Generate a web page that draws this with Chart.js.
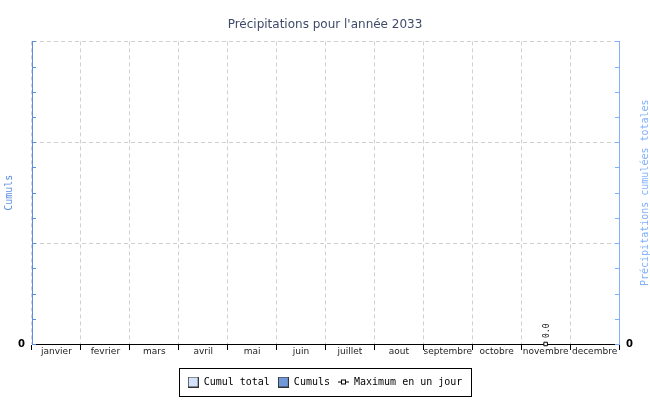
<!DOCTYPE html>
<html>
<head>
<meta charset="utf-8">
<script src="https://cdn.jsdelivr.net/npm/chart.js@4"></script>
<style>
  html, body { margin: 0; padding: 0; background: #fff; }
  #wrap { width: 650px; height: 400px; position: relative; }
</style>
</head>
<body>
<div id="wrap"><canvas id="precipChart"></canvas></div>
<script>
// Data (empty year, one zero maximum in November)
const months = ['janvier', 'fevrier', 'mars', 'avril', 'mai', 'juin', 'juillet', 'aout', 'septembre', 'octobre', 'novembre', 'decembre'];
const cumulTotal = [0, 0, 0, 0, 0, 0, 0, 0, 0, 0, 0, 0];
const cumuls = [0, 0, 0, 0, 0, 0, 0, 0, 0, 0, 0, 0];
const maxJour = [null, null, null, null, null, null, null, null, null, null, 0, null];
const yMax = 3;

const LEFT_BLUE = '#5b8ee0';
const RIGHT_BLUE = '#7eb0ff';
const GRID = '#d0d0d0';

// legend swatches
function swatch(fill) {
    const c = document.createElement('canvas');
    c.width = 11; c.height = 11;
    const g = c.getContext('2d');
    g.fillStyle = fill;
    g.fillRect(0.5, 0.5, 10, 10);
    g.strokeStyle = '#333';
    g.strokeRect(0.5, 0.5, 10, 10);
    return c;
}
function lineSwatch() {
    const c = document.createElement('canvas');
    c.width = 11; c.height = 7;
    const g = c.getContext('2d');
    g.strokeStyle = '#000';
    g.beginPath(); g.moveTo(0, 3.5); g.lineTo(11, 3.5); g.stroke();
    g.fillStyle = '#fff';
    g.fillRect(3.5, 1.5, 4, 4);
    g.strokeRect(3.5, 1.5, 4, 4);
    return c;
}

// inward minor ticks on both value axes
const innerTicks = {
    id: 'innerTicks',
    afterDraw(chart) {
        const ctx = chart.ctx;
        const area = chart.chartArea;
        [['y', LEFT_BLUE, area.left, 4], ['y1', RIGHT_BLUE, area.right, -4]].forEach(([id, col, x0, len]) => {
            const scale = chart.scales[id];
            ctx.save();
            ctx.strokeStyle = col;
            ctx.lineWidth = 1;
            scale.ticks.forEach(t => {
                const y = Math.round(scale.getPixelForValue(t.value)) + 0.5;
                ctx.beginPath();
                ctx.moveTo(x0, y);
                ctx.lineTo(x0 + len, y);
                ctx.stroke();
            });
            ctx.restore();
        });
        // right axis title, reading bottom to top
        ctx.save();
        ctx.translate(645, (area.top + area.bottom) / 2);
        ctx.rotate(-Math.PI / 2);
        ctx.font = '10px "DejaVu Sans Mono"';
        ctx.fillStyle = RIGHT_BLUE;
        ctx.textAlign = 'center';
        ctx.textBaseline = 'middle';
        ctx.fillText('Précipitations cumulées totales', 0, 0);
        ctx.restore();
    }
};

// rotated value label above the daily maximum point
const pointLabels = {
    id: 'pointLabels',
    afterDatasetsDraw(chart) {
        const ctx = chart.ctx;
        const meta = chart.getDatasetMeta(2);
        ctx.save();
        ctx.font = '8px "DejaVu Sans Mono"';
        ctx.fillStyle = '#000';
        ctx.textAlign = 'left';
        ctx.textBaseline = 'middle';
        meta.data.forEach((pt, i) => {
            if (maxJour[i] === null) return;
            ctx.save();
            ctx.translate(pt.x + 1, pt.y - 6);
            ctx.rotate(-Math.PI / 2);
            ctx.fillText(maxJour[i].toFixed(1), 0, 0);
            ctx.restore();
        });
        ctx.restore();
    }
};

// frame around the legend
const legendFrame = {
    id: 'legendFrame',
    afterDraw(chart) {
        const boxes = chart.legend.legendHitBoxes;
        if (!boxes || !boxes.length) return;
        const left = Math.min(...boxes.map(b => b.left)) - 9;
        const right = Math.max(...boxes.map(b => b.left + b.width)) + 8;
        const top = boxes[0].top - 9;
        const bottom = boxes[0].top + boxes[0].height + 9;
        const ctx = chart.ctx;
        ctx.save();
        ctx.strokeStyle = '#000';
        ctx.lineWidth = 1;
        ctx.strokeRect(Math.round(left) + 0.5, Math.round(top) + 0.5, Math.round(right - left), Math.round(bottom - top));
        ctx.restore();
    }
};

const gridColor = c => (c.tick && Number.isInteger(c.tick.value) && c.tick.value > 0) ? GRID : 'rgba(0,0,0,0)';

new Chart(document.getElementById('precipChart'), {
    type: 'bar',
    data: {
        labels: months,
        datasets: [
            {
                label: 'Cumul total',
                data: cumulTotal,
                backgroundColor: '#d4e3fb',
                borderColor: '#333',
                borderWidth: 1,
                yAxisID: 'y1',
                order: 3
            },
            {
                label: 'Cumuls',
                data: cumuls,
                backgroundColor: '#7199d8',
                borderColor: '#333',
                borderWidth: 1,
                yAxisID: 'y',
                order: 2
            },
            {
                label: 'Maximum en un jour',
                type: 'line',
                data: maxJour,
                borderColor: '#000',
                borderWidth: 1,
                backgroundColor: '#fff',
                pointStyle: 'rect',
                pointRadius: 2.5,
                pointBorderWidth: 1,
                clip: false,
                yAxisID: 'y',
                order: 1
            }
        ]
    },
    options: {
        responsive: true,
        maintainAspectRatio: false,
        animation: false,
        layout: { padding: { top: 0, bottom: 3, left: 0, right: 0 } },
        plugins: {
            title: {
                display: true,
                text: "Précipitations pour l'année 2033",
                color: '#3e4a68',
                font: { family: 'DejaVu Sans', size: 12, weight: 'normal' },
                padding: { top: 18, bottom: 9 }
            },
            legend: {
                position: 'bottom',
                labels: {
                    usePointStyle: true,
                    pointStyleWidth: 11,
                    boxHeight: 10,
                    padding: 8,
                    color: '#000',
                    font: { family: 'DejaVu Sans Mono', size: 10 },
                    generateLabels: () => [
                        { text: 'Cumul total', pointStyle: swatch('#d4e3fb'), datasetIndex: 0, lineWidth: 0 },
                        { text: 'Cumuls', pointStyle: swatch('#7199d8'), datasetIndex: 1, lineWidth: 0 },
                        { text: 'Maximum en un jour', pointStyle: lineSwatch(), datasetIndex: 2, lineWidth: 0 }
                    ]
                }
            },
            tooltip: { enabled: false }
        },
        scales: {
            x: {
                offset: true,
                grid: { color: GRID, offset: true, tickColor: '#000', tickLength: 6 },
                border: { color: '#000', width: 1, dash: [4, 3] },
                ticks: {
                    color: '#222',
                    font: { family: 'DejaVu Sans', size: 9 },
                    padding: -4,
                    maxRotation: 0,
                    autoSkip: false
                },
                afterFit: s => { s.height = 25; }
            },
            y: {
                position: 'left',
                min: 0,
                max: yMax,
                grid: { color: gridColor, drawTicks: false },
                border: { color: LEFT_BLUE, width: 1, dash: [4, 3] },
                ticks: {
                    stepSize: 0.25,
                    padding: 7,
                    color: '#000',
                    font: { family: 'DejaVu Sans', size: 10, weight: 'bold' },
                    callback: v => v === 0 ? '0' : ''
                },
                title: {
                    display: true,
                    text: 'Cumuls',
                    color: LEFT_BLUE,
                    font: { family: 'DejaVu Sans Mono', size: 10 },
                    padding: { top: 3, bottom: 0 }
                },
                afterFit: s => { s.width = 32; }
            },
            y1: {
                position: 'right',
                min: 0,
                max: yMax,
                grid: { display: false, drawTicks: false },
                border: { color: RIGHT_BLUE, width: 1 },
                ticks: {
                    stepSize: 0.25,
                    padding: 7,
                    color: '#000',
                    font: { family: 'DejaVu Sans', size: 10, weight: 'bold' },
                    callback: v => v === 0 ? '0' : ''
                },
                afterFit: s => { s.width = 31; }
            }
        }
    },
    plugins: [innerTicks, pointLabels, legendFrame]
});
</script>
</body>
</html>
